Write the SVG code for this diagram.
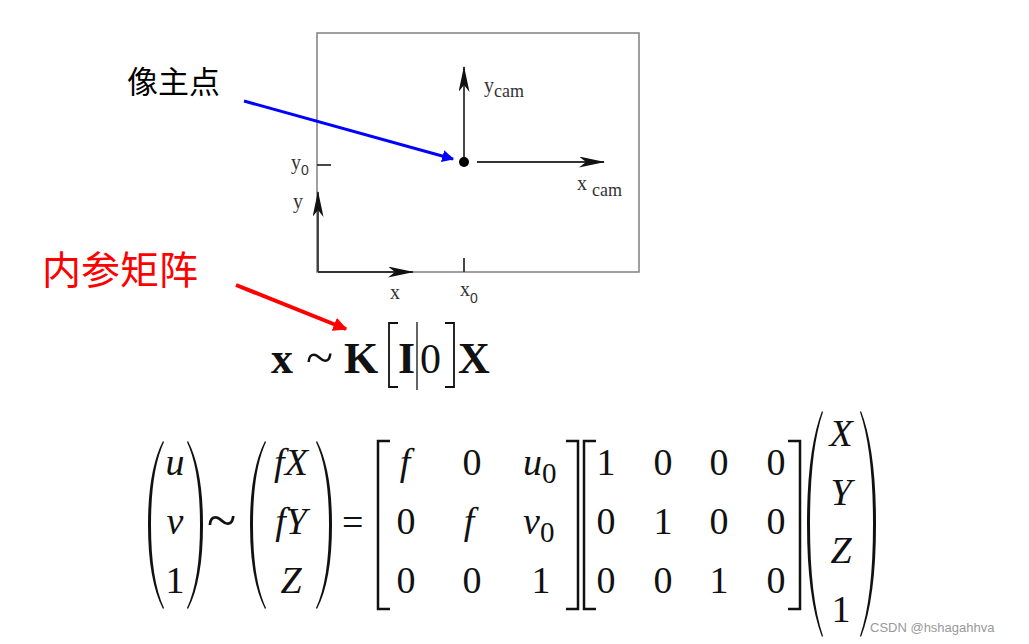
<svg xmlns="http://www.w3.org/2000/svg" width="1029" height="644" viewBox="0 0 1029 644">
<defs>
<marker id="stealth" viewBox="0 0 26 11" refX="25" refY="5.5" markerWidth="26" markerHeight="11" markerUnits="userSpaceOnUse" orient="auto">
<path d="M0,0 L26,5.5 L0,11 L7,5.5 Z" fill="#111"/>
</marker>
<marker id="blueHead" viewBox="0 0 10 10" refX="9" refY="5" markerWidth="12" markerHeight="12" markerUnits="userSpaceOnUse" orient="auto">
<path d="M0,0 L10,5 L0,10 Z" fill="#0000ff"/>
</marker>
<marker id="redHead" viewBox="0 0 10 10" refX="9" refY="5" markerWidth="14" markerHeight="14" markerUnits="userSpaceOnUse" orient="auto">
<path d="M0,0 L10,5 L0,10 Z" fill="#ff0000"/>
</marker>
</defs>
<style>
.ax{stroke:#333;stroke-width:1.8;fill:none}
.lab{font-family:"Liberation Serif",serif;font-size:20px;fill:#333}
.cam{font-family:"Liberation Serif",serif;font-size:18px;fill:#333}
.sub{font-family:"Liberation Sans",sans-serif;font-size:14px;fill:#333}
.m{font-family:"Liberation Serif",serif;font-size:38px;fill:#111}
.mi{font-family:"Liberation Serif",serif;font-size:38px;font-style:italic;fill:#111}
.s0{font-family:"Liberation Serif",serif;font-size:29px;font-style:normal;fill:#111}
.mb{font-family:"Liberation Serif",serif;font-size:44px;font-weight:bold;fill:#111}
.br{stroke:#111;stroke-width:2.5;fill:none}
.bt{stroke:#111;stroke-width:1.8;fill:none}
.pr{fill:#111;stroke:none}
</style>
<rect width="1029" height="644" fill="#fff"/>

<g id="image-plane">
<rect x="317" y="33" width="322" height="239" fill="none" stroke="#888" stroke-width="1.6"/>
<line class="ax" x1="317" y1="165" x2="331" y2="165"/>
<line class="ax" x1="464" y1="258" x2="464" y2="272"/>
<line class="ax" x1="318" y1="272" x2="318" y2="192" marker-end="url(#stealth)"/>
<line class="ax" x1="318" y1="272" x2="413" y2="272" marker-end="url(#stealth)"/>
<line class="ax" x1="464" y1="162" x2="464" y2="67" marker-end="url(#stealth)"/>
<line class="ax" x1="477" y1="162" x2="604" y2="162" marker-end="url(#stealth)"/>
<circle cx="464" cy="162" r="5" fill="#000"/>
<text class="lab" x="484" y="92">y<tspan class="cam" dy="5">cam</tspan></text>
<text class="lab" x="577" y="190">x <tspan class="cam" dy="6">cam</tspan></text>
<text class="lab" x="291" y="169">y<tspan class="sub" dy="6">0</tspan></text>
<text class="lab" x="293" y="208">y</text>
<text class="lab" x="390" y="299">x</text>
<text class="lab" x="460" y="296">x<tspan class="sub" dy="7">0</tspan></text>
</g>

<g id="label-principal">
<text x="127" y="93" font-family="'Noto Sans CJK SC',sans-serif" font-size="31" fill="#000">像主点</text>
</g>
<g id="label-intrinsic">
<text x="42" y="284" font-family="'Noto Sans CJK SC',sans-serif" font-size="39" fill="#ff0000">内参矩阵</text>
</g>

<g id="connectors">
<line x1="244" y1="101" x2="453" y2="159" stroke="#0000ff" stroke-width="3" marker-end="url(#blueHead)"/>
<line x1="236" y1="285" x2="346" y2="329" stroke="#ff0000" stroke-width="4" marker-end="url(#redHead)"/>
</g>

<g id="formula-short">
<text class="mb" x="271" y="373">x</text>
<text class="m" x="306" y="374" style="font-size:50px">~</text>
<text class="mb" x="344" y="373">K</text>
<path class="bt" d="M398,323 L389,323 L389,387 L398,387"/>
<text class="mb" x="398" y="373">I</text>
<line x1="417" y1="322" x2="417" y2="390" stroke="#111" stroke-width="1.3"/>
<text class="m" x="420" y="373" style="font-size:42px">0</text>
<path class="bt" d="M445,323 L454,323 L454,387 L445,387"/>
<text class="mb" x="458" y="373">X</text>
</g>

<g id="formula-full">
<!-- (u v 1) -->
<path class="pr" d="M163,441 Q148,470 148,525 Q148,580 163,609 L164,608 Q151,580 151,525 Q151,470 164,442 Z"/>
<path class="pr" d="M188,441 Q203,470 203,525 Q203,580 188,609 L187,608 Q200,580 200,525 Q200,470 187,442 Z"/>
<text class="mi" x="175" y="475" text-anchor="middle">u</text>
<text class="mi" x="175" y="534" text-anchor="middle">v</text>
<text class="m" x="175" y="593" text-anchor="middle">1</text>
<text class="m" x="207" y="539" style="font-size:54px">~</text>
<!-- (fX fY Z) -->
<path class="pr" d="M265,441 Q250,470 250,525 Q250,580 265,609 L266,608 Q253,580 253,525 Q253,470 266,442 Z"/>
<path class="pr" d="M317,441 Q332,470 332,525 Q332,580 317,609 L316,608 Q329,580 329,525 Q329,470 316,442 Z"/>
<text class="mi" x="291" y="475" text-anchor="middle">fX</text>
<text class="mi" x="291" y="534" text-anchor="middle">fY</text>
<text class="mi" x="291" y="593" text-anchor="middle">Z</text>
<text class="m" x="342" y="535">=</text>
<!-- K matrix -->
<path class="br" d="M390,441 L378,441 L378,609 L390,609"/>
<path class="br" d="M566,441 L578,441 L578,609 L566,609"/>
<text class="mi" x="405" y="475" text-anchor="middle">f</text>
<text class="m" x="472" y="475" text-anchor="middle">0</text>
<text class="mi" x="523" y="475">u<tspan class="s0" dy="8">0</tspan></text>
<text class="m" x="406" y="534" text-anchor="middle">0</text>
<text class="mi" x="469" y="534" text-anchor="middle">f</text>
<text class="mi" x="523" y="534">v<tspan class="s0" dy="8">0</tspan></text>
<text class="m" x="406" y="593" text-anchor="middle">0</text>
<text class="m" x="472" y="593" text-anchor="middle">0</text>
<text class="m" x="541" y="593" text-anchor="middle">1</text>
<!-- [I|0] matrix -->
<path class="br" d="M596,441 L584,441 L584,609 L596,609"/>
<path class="br" d="M788,441 L800,441 L800,609 L788,609"/>
<text class="m" x="606" y="475" text-anchor="middle">1</text>
<text class="m" x="663" y="475" text-anchor="middle">0</text>
<text class="m" x="719" y="475" text-anchor="middle">0</text>
<text class="m" x="776" y="475" text-anchor="middle">0</text>
<text class="m" x="606" y="534" text-anchor="middle">0</text>
<text class="m" x="663" y="534" text-anchor="middle">1</text>
<text class="m" x="719" y="534" text-anchor="middle">0</text>
<text class="m" x="776" y="534" text-anchor="middle">0</text>
<text class="m" x="606" y="593" text-anchor="middle">0</text>
<text class="m" x="663" y="593" text-anchor="middle">0</text>
<text class="m" x="719" y="593" text-anchor="middle">1</text>
<text class="m" x="776" y="593" text-anchor="middle">0</text>
<!-- (X Y Z 1) -->
<path class="pr" d="M822,411 Q807,450 807,524 Q807,598 822,637 L823,636 Q810,598 810,524 Q810,450 823,412 Z"/>
<path class="pr" d="M861,411 Q876,450 876,524 Q876,598 861,637 L860,636 Q873,598 873,524 Q873,450 860,412 Z"/>
<text class="mi" x="841" y="446" text-anchor="middle">X</text>
<text class="mi" x="841" y="505" text-anchor="middle">Y</text>
<text class="mi" x="841" y="563" text-anchor="middle">Z</text>
<text class="m" x="841" y="622" text-anchor="middle">1</text>
</g>

<g id="watermark">
<text x="870" y="632" font-family="'Liberation Sans',sans-serif" font-size="13" fill="#999">CSDN @hshagahhva</text>
</g>
</svg>
